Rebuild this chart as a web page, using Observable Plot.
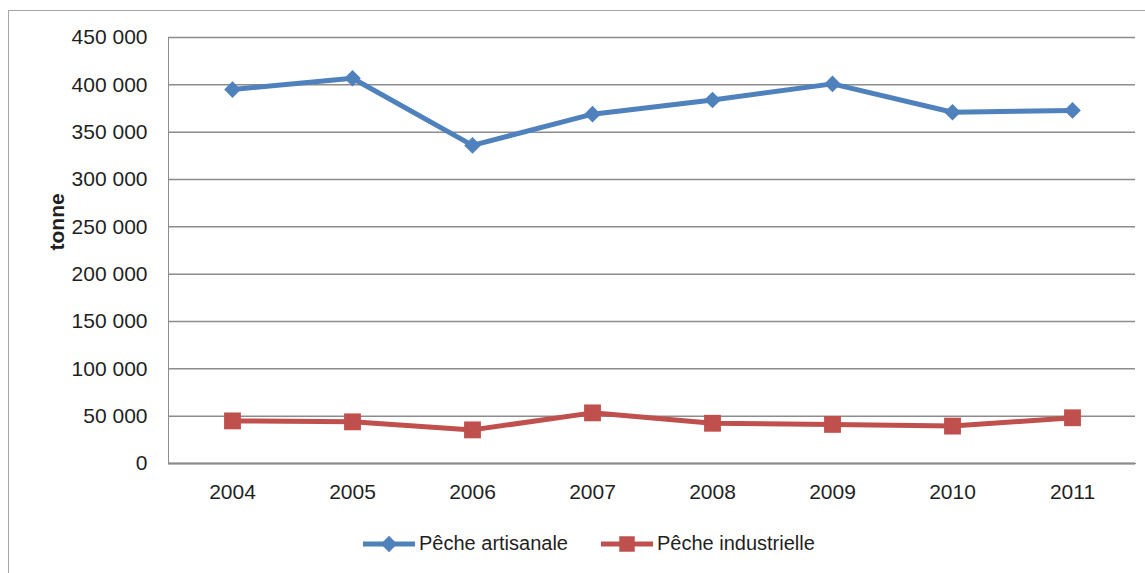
<!DOCTYPE html>
<html>
<head>
<meta charset="utf-8">
<script src="https://cdn.jsdelivr.net/npm/d3@7"></script>
<script src="https://cdn.jsdelivr.net/npm/@observablehq/plot@0.6"></script>
<style>
  html, body { margin: 0; padding: 0; background: #fff; overflow: hidden; }
  body { width: 1145px; height: 573px; position: relative; font-family: "Liberation Sans", Arial, sans-serif; }
  #chart { position: absolute; left: 0; top: 0; }
  #chart svg text { fill: #1f1f1f; }
  #frame { position: absolute; left: 8px; top: 10px; width: 1160px; height: 600px; border: 1px solid #a6a6a6; box-sizing: border-box; pointer-events: none; }
  #legend { position: absolute; left: 363px; top: 532px; display: flex; align-items: center; font-size: 20px; color: #1f1f1f; }
  #legend .item { display: flex; align-items: center; }
  #legend .item + .item { margin-left: 33px; }
  #legend svg { display: block; margin-right: 4px; }
</style>
</head>
<body>
<div id="chart"></div>
<div id="legend"></div>
<div id="frame"></div>
<script>
// Annual landings (tonnes) by fishery type
const years = ["2004", "2005", "2006", "2007", "2008", "2009", "2010", "2011"];
const artisanale = [395000, 407000, 336000, 369000, 384000, 401000, 371000, 373000];
const industrielle = [45000, 44000, 35500, 53500, 42500, 41300, 39500, 48300];
const yTicks = [0, 50000, 100000, 150000, 200000, 250000, 300000, 350000, 400000, 450000];
const seriesNames = ["Pêche artisanale", "Pêche industrielle"];
const seriesColors = ["#4F81BD", "#C0504D"];
const seriesSymbols = ["diamond2", "square"];

const rows = [
  ...years.map((y, i) => ({year: y, value: artisanale[i], series: seriesNames[0]})),
  ...years.map((y, i) => ({year: y, value: industrielle[i], series: seriesNames[1]}))
];

const spaced = d => d3.format(",")(d).replace(/,/g, " ");

const chart = Plot.plot({
  width: 1145,
  height: 515,
  marginTop: 37,
  marginBottom: 52,
  marginLeft: 168,
  marginRight: 10,
  style: {background: "transparent", fontFamily: "'Liberation Sans', Arial, sans-serif", fontSize: "21px", color: "#8c8c8c"},
  x: {type: "point", domain: years, padding: 0.5, line: true, tickSize: 0, tickPadding: 21, label: null},
  y: {domain: [0, 450000], ticks: yTicks, tickFormat: spaced, line: true, tickSize: 0, tickPadding: 21, label: null},
  color: {domain: seriesNames, range: seriesColors},
  symbol: {domain: seriesNames, range: seriesSymbols},
  marks: [
    Plot.gridY(yTicks, {stroke: "#8c8c8c", strokeOpacity: 1, strokeWidth: 1.5}),
    Plot.ruleY([0], {stroke: "#8c8c8c", strokeWidth: 2}),
    Plot.line(rows, {x: "year", y: "value", z: "series", stroke: "series", strokeWidth: 5}),
    Plot.dot(rows.filter(d => d.series === seriesNames[0]), {x: "year", y: "value", symbol: "series", fill: "series", r: 7.5}),
    Plot.dot(rows.filter(d => d.series === seriesNames[1]), {x: "year", y: "value", symbol: "series", fill: "series", r: 9.5}),
    Plot.text(["tonne"], {text: d => d, frameAnchor: "left", rotate: -90, dx: -111, fontWeight: "bold", fontSize: 21, fill: "#1f1f1f"})
  ]
});
document.getElementById("chart").appendChild(chart);

// Legend: line swatch with the series marker, then the series name
const legend = d3.select("#legend");
seriesNames.forEach((name, i) => {
  const item = legend.append("div").attr("class", "item");
  const sw = item.append("svg").attr("width", 52).attr("height", 22);
  sw.append("line").attr("x1", 0).attr("x2", 52).attr("y1", 11).attr("y2", 11)
    .attr("stroke", seriesColors[i]).attr("stroke-width", 5);
  const sym = i === 0 ? d3.symbol(d3.symbolDiamond2, 170) : d3.symbol(d3.symbolSquare, 240);
  sw.append("path").attr("d", sym()).attr("transform", "translate(26,11)").attr("fill", seriesColors[i]);
  item.append("span").text(name);
});
</script>
</body>
</html>
